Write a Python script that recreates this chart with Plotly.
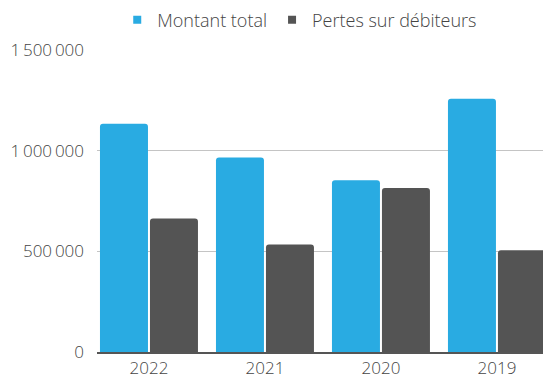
import plotly.graph_objects as go

years = ["2022", "2021", "2020", "2019"]
montant_total = [1134000, 966000, 853000, 1258000]
pertes_debiteurs = [663000, 534000, 815000, 506000]
series_names = ["Montant total", "Pertes sur débiteurs"]

BLUE = "#29abe2"
GREY = "#545454"
FONT = "Open Sans"
TEXT = "#444444"

fig = go.Figure()
for name, values, color in zip(series_names, [montant_total, pertes_debiteurs], [BLUE, GREY]):
    fig.add_trace(go.Bar(
        x=years, y=values, name=name, showlegend=False,
        marker=dict(color=color, cornerradius=3, line=dict(width=0)),
    ))
# square legend swatches
for name, color in zip(series_names, [BLUE, GREY]):
    fig.add_trace(go.Scatter(
        x=[None], y=[None], name=name, mode="markers",
        marker=dict(symbol="square", size=8, color=color),
    ))

fig.update_layout(
    width=543, height=379,
    margin=dict(l=97, r=0, t=49.5, b=27, pad=0),
    paper_bgcolor="white", plot_bgcolor="white",
    barmode="group", bargap=0.138, bargroupgap=0.04,
    separators=",\u2009",
    font=dict(family=FONT, size=17, color=TEXT, weight=300),
    showlegend=True,
    legend=dict(
        orientation="h", xref="container", yref="container",
        x=0.552, xanchor="center", y=0.947, yanchor="middle",
        font=dict(family=FONT, size=18, color=TEXT, weight=300),
        traceorder="normal", itemwidth=30,
    ),
    xaxis=dict(
        type="category", range=[-0.448, 3.397], automargin=False,
        showgrid=False, ticks="", showline=True, linecolor="#555555", linewidth=1.5,
        tickfont=dict(family=FONT, size=17, color=TEXT, weight=300),
        ticklabelstandoff=0,
    ),
    yaxis=dict(
        range=[0, 1500000], tickvals=[0, 500000, 1000000, 1500000], automargin=False,
        tickformat=",d", showgrid=True, gridcolor="#c4c4c4", gridwidth=1,
        zeroline=False, showline=False, ticks="",
        tickfont=dict(family=FONT, size=17, color=TEXT, weight=300),
        ticklabelstandoff=12,
    ),
)

fig.write_html("out.html")
